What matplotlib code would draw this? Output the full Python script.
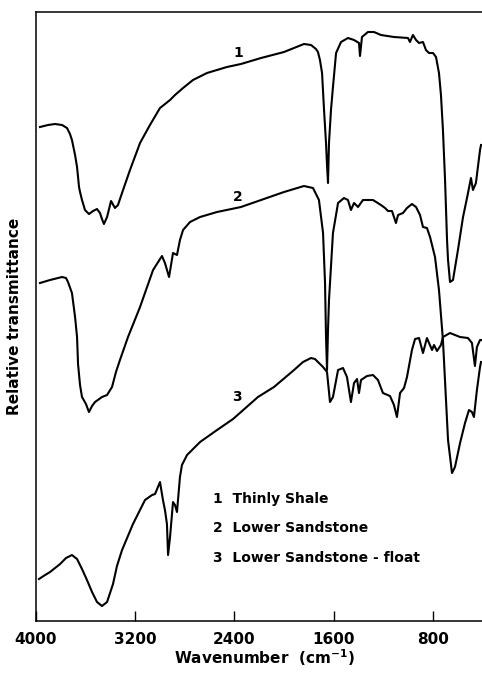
import matplotlib
matplotlib.use("Agg")
import matplotlib.pyplot as plt

plt.rcParams['font.family'] = ['DejaVu Sans']
plt.rcParams['font.weight'] = 'bold'
plt.rcParams['axes.labelweight'] = 'bold'

# IR spectra (wavenumber in cm-1, transmittance in arbitrary units)
wn1 = [3968, 3903, 3847, 3790, 3750, 3726, 3710, 3685, 3669, 3653, 3645, 3629,
       3605, 3573, 3540, 3508, 3484, 3468, 3452, 3427, 3395, 3363, 3339, 3298,
       3242, 3161, 3081, 3000, 2919, 2879, 2814, 2734, 2621, 2460, 2347, 2185,
       2000, 1839, 1782, 1742, 1726, 1710, 1693, 1677, 1661, 1653, 1645, 1637,
       1621, 1605, 1580, 1540, 1484, 1435, 1395, 1387, 1371, 1323, 1274, 1218,
       1113, 1000, 984, 960, 935, 911, 879, 855, 831, 798, 774, 750, 734, 718,
       701, 685, 677, 661, 637, 597, 556, 524, 492, 476, 452, 419, 411]
t1 = [494, 496, 497, 496, 493, 487, 481, 466, 454, 434, 429, 421,
      411, 407, 410, 412, 408, 402, 397, 404, 420, 413, 416, 431,
      451, 478, 496, 513, 521, 526, 533, 541, 548, 554, 557, 563,
      569, 577, 576, 572, 569, 561, 548, 511, 478, 456, 438, 478,
      511, 534, 568, 579, 583, 581, 578, 565, 584, 589, 589, 586,
      584, 583, 579, 586, 581, 578, 579, 571, 568, 568, 564, 548, 526, 491,
      441, 381, 361, 339, 341, 371, 404, 423, 443, 431, 438, 471, 476]

wn2 = [3968, 3887, 3790, 3758, 3742, 3710, 3685, 3669, 3661, 3645, 3629, 3597,
       3573, 3548, 3524, 3468, 3427, 3387, 3355, 3323, 3258, 3161, 3056, 2984,
       2960, 2927, 2895, 2863, 2839, 2814, 2758, 2677, 2540, 2347, 2185, 2000,
       1839, 1766, 1718, 1685, 1669, 1661, 1653, 1645, 1637, 1605, 1564, 1516,
       1484, 1460, 1435, 1403, 1363, 1282, 1218, 1185, 1161, 1129, 1097, 1080,
       1040, 1008, 968, 935, 903, 879, 847, 822, 782, 750, 718, 677, 645, 621,
       580, 540, 508, 484, 468, 444, 419, 411]
t2 = [338, 341, 344, 343, 339, 328, 304, 284, 257, 236, 224, 217,
      209, 215, 219, 224, 226, 234, 249, 261, 284, 314, 351, 365,
      358, 344, 368, 366, 381, 391, 399, 404, 409, 414, 421, 429,
      435, 433, 421, 388, 338, 284, 251, 291, 321, 388, 418, 423,
      421, 411, 418, 414, 421, 421, 416, 413, 410, 410, 398, 406,
      408, 413, 417, 414, 406, 394, 393, 384, 364, 331, 281, 181, 148, 154,
      178, 198, 211, 209, 204, 231, 254, 259]

wn3 = [3976, 3927, 3887, 3806, 3758, 3710, 3669, 3629, 3589, 3548, 3508, 3468,
       3427, 3379, 3347, 3306, 3218, 3121, 3064, 3040, 3000, 2976, 2960, 2944,
       2935, 2919, 2895, 2879, 2863, 2839, 2823, 2782, 2677, 2540, 2411, 2347,
       2210, 2081, 1919, 1847, 1782, 1750, 1726, 1685, 1653, 1629, 1605, 1564,
       1524, 1492, 1460, 1435, 1411, 1395, 1379, 1331, 1282, 1242, 1202, 1145,
       1113, 1089, 1064, 1032, 1008, 968, 943, 911, 879, 847, 806, 790, 766,
       734, 718, 661, 580, 516, 484, 460, 444, 419, 411]
t3 = [42, 46, 49, 57, 63, 66, 62, 52, 41, 29, 19, 15,
      19, 37, 55, 71, 97, 121, 126, 127, 139, 121, 111, 97,
      66, 84, 119, 116, 109, 144, 156, 166, 179, 191, 202, 209,
      224, 234, 251, 259, 263, 262, 259, 254, 249, 219, 224, 251,
      253, 244, 219, 238, 242, 228, 241, 245, 246, 241, 228, 225,
      216, 204, 228, 233, 244, 271, 282, 283, 268, 283, 271, 276, 270,
      276, 284, 288, 284, 283, 278, 255, 274, 281, 281]

samples = ["1  Thinly Shale", "2  Lower Sandstone", "3  Lower Sandstone - float"]
xticks = [4000, 3200, 2400, 1600, 800]

fig = plt.figure(figsize=(4.82, 6.74), dpi=100)
ax = fig.add_axes([0.0747, 0.0786, 0.9253, 0.9036])

for wn, t in [(wn1, t1), (wn2, t2), (wn3, t3)]:
    ax.plot(wn, t, color="black", lw=1.5)

# curve numbers
ax.text(2371, 568, "1", fontsize=10, ha="center", va="center")
ax.text(2371, 424, "2", fontsize=10, ha="center", va="center")
ax.text(2379, 224, "3", fontsize=10, ha="center", va="center")

for i, s in enumerate(samples):
    ax.text(0.397, 0.200 - i * 0.048, s, transform=ax.transAxes,
            fontsize=10, ha="left", va="center")

ax.set_xlim(4000, 403)
ax.set_ylim(0, 609)
ax.set_xticks(xticks)
ax.set_yticks([])
ax.tick_params(axis="x", direction="in", length=7, width=1, pad=8, labelsize=11)
for side in ["left", "bottom", "top"]:
    ax.spines[side].set_linewidth(1.1)
ax.spines["right"].set_visible(False)

ax.set_xlabel("Wavenumber  (cm$^{\\mathbf{-1}}$)", fontsize=11)
ax.set_ylabel("Relative transmittance", fontsize=11)
ax.xaxis.set_label_coords(0.513, -0.043)
ax.yaxis.set_label_coords(-0.032, 0.5)

fig.savefig("out.png", dpi=100)
